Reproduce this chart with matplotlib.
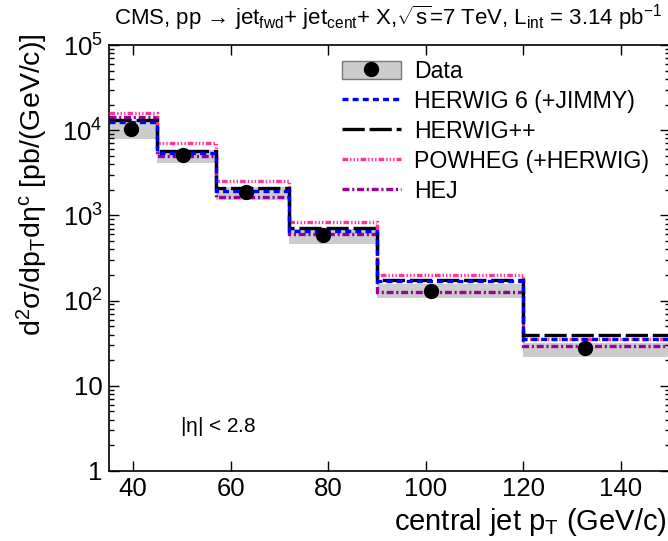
import matplotlib
matplotlib.use("Agg")
import matplotlib.pyplot as plt
from matplotlib.patches import Patch
from matplotlib.lines import Line2D
from matplotlib.ticker import FixedLocator, FuncFormatter, LogLocator, NullFormatter, NullLocator

plt.rcParams['font.family'] = ['Liberation Sans', 'DejaVu Sans']
plt.rcParams['mathtext.fontset'] = 'custom'
plt.rcParams['mathtext.rm'] = 'Liberation Sans'
plt.rcParams['mathtext.it'] = 'Liberation Sans:italic'
plt.rcParams['mathtext.bf'] = 'Liberation Sans:bold'
plt.rcParams['lines.scale_dashes'] = False

# ---- data ----
edges = [35, 45, 57, 72, 90, 120, 150]
data_x = [39.6, 50.2, 63.2, 79.0, 101.1, 132.7]
data_y = [10250, 5115, 1867, 590, 130.7, 28.0]
band_lo = [7820, 4085, 1517, 462, 106, 22.0]
band_hi = [12900, 5860, 2170, 700, 155, 32.0]
herwig6 = [12600, 5450, 1930, 661, 169.5, 35.2]
herwigpp = [13200, 5700, 2115, 706, 174, 39.5]
powheg = [15800, 7020, 2535, 830, 201, 35.2]
hej = [14200, 5010, 1657, 605, 127, 29.3]
x_ticks = [40, 60, 80, 100, 120, 140]
y_ticks = [1, 10, 100, 1000, 10000, 100000]
y_tick_labels = ["1", "10", "$\\mathregular{10^{2}}$", "$\\mathregular{10^{3}}$",
                 "$\\mathregular{10^{4}}$", "$\\mathregular{10^{5}}$"]
series_labels = ["Data", "HERWIG 6 (+JIMMY)", "HERWIG++", "POWHEG (+HERWIG)", "HEJ"]

W, H = 668, 541
fig = plt.figure(figsize=(W / 100, H / 100), dpi=100)
left, right, top, bottom = 108.7, 669.8, 45, 471
ax = fig.add_axes([left / W, 1 - bottom / H, (right - left) / W, (bottom - top) / H])

gray = '#cccccc'
ax.stairs(band_hi, edges, baseline=band_lo, fill=True, color=gray, lw=0, zorder=1)

lw = 2.4
ls_h6 = (0, (4.3, 3))
ls_hpp = (0, (16, 3.5))
ls_pow = (0, (4, 1.5, 1, 1.5, 1, 1.5, 1, 1.5))
ls_hej = (0, (5, 2, 1.5, 2))
ax.stairs(hej, edges, baseline=None, color='#990099', lw=lw, ls=ls_hej, zorder=2)
ax.stairs(powheg, edges, baseline=None, color='#ff3399', lw=lw, ls=ls_pow, zorder=3)
ax.stairs(herwigpp, edges, baseline=None, color='black', lw=lw, ls=ls_hpp, zorder=4)
ax.stairs(herwig6, edges, baseline=None, color='#0000ff', lw=lw, ls=ls_h6, zorder=5)
ax.plot(data_x, data_y, 'o', color='black', ms=10, zorder=6)

ax.set_yscale('log')
ax.set_xlim(edges[0], edges[-1])
ax.set_ylim(y_ticks[0], y_ticks[-1])
ax.xaxis.set_major_locator(FixedLocator(x_ticks))
ax.xaxis.set_minor_locator(NullLocator())
ax.yaxis.set_major_locator(FixedLocator(y_ticks))
ax.yaxis.set_major_formatter(FuncFormatter(
    lambda v, p: y_tick_labels[y_ticks.index(round(v))] if round(v) in y_ticks else ""))
ax.yaxis.set_minor_locator(LogLocator(base=10, subs=range(2, 10), numticks=20))
ax.yaxis.set_minor_formatter(NullFormatter())
ax.tick_params(which='both', direction='in', top=True, right=True, labelsize=18.5, pad=4.3, width=1)
ax.tick_params(which='major', length=7)
ax.tick_params(which='minor', length=3.5)
for s in ax.spines.values():
    s.set_linewidth(1.2)

fig.text(388 / W, 1 - 18 / H,
         "CMS, pp \u2192 jet$_\\mathregular{fwd}$+ jet$_\\mathregular{cent}$+ X,$\\mathregular{\\sqrt{s}}$=7 TeV, L$_\\mathregular{int}$ = 3.14 pb$^\\mathregular{-1}$",
         ha='center', va='center', fontsize=16)
fig.text(32 / W, 1 - 33 / H,
         r"$\mathregular{d^{2}\sigma/dp_{T}d\eta^{c}}$ [pb/(GeV/c)]",
         rotation=90, ha='center', va='top', fontsize=20.5)
fig.text(667 / W, 1 - 522 / H, r"central jet p$_\mathregular{T}$ (GeV/c)",
         ha='right', va='center', fontsize=21)
fig.text(218 / W, 1 - 427 / H, r"|$\mathregular{\eta}$| < 2.8", ha='center', va='center', fontsize=15)

h_data = (Patch(facecolor=gray, edgecolor='#777777', lw=1),
          Line2D([], [], marker='o', color='black', ls='none', ms=10))
h1 = Line2D([], [], color='#0000ff', lw=lw, ls=ls_h6)
h2 = Line2D([], [], color='black', lw=lw, ls=ls_hpp)
h3 = Line2D([], [], color='#ff3399', lw=lw, ls=ls_pow)
h4 = Line2D([], [], color='#990099', lw=lw, ls=ls_hej)
fig.legend([h_data, h1, h2, h3, h4], series_labels, loc='upper left',
           bbox_to_anchor=(341.7 / W, 1 - 60 / H), bbox_transform=fig.transFigure,
           frameon=False, borderpad=0, borderaxespad=0, fontsize=16.7,
           handlelength=2.54, handleheight=0.86, handletextpad=0.57, labelspacing=0.3)

fig.savefig('out.png', dpi=100)
